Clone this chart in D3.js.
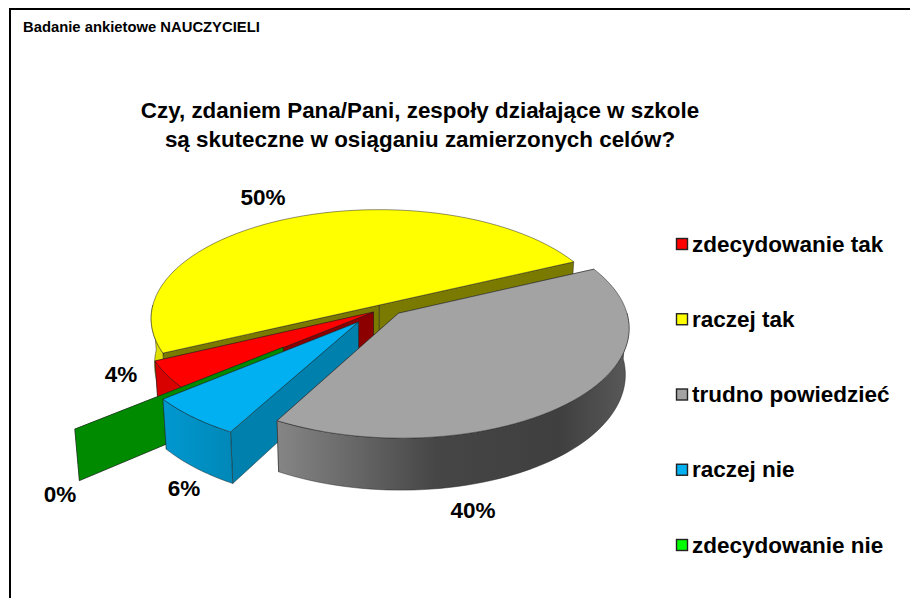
<!DOCTYPE html>
<html><head><meta charset="utf-8">
<script src="https://cdn.jsdelivr.net/npm/d3@7"></script>
<style>html,body{margin:0;padding:0;background:#fff}svg{display:block}text{font-family:"Liberation Sans",Arial,sans-serif;font-weight:bold;fill:#000}</style>
</head><body><div id="chart"></div>
<script>
const categories = ["zdecydowanie tak","raczej tak","trudno powiedzieć","raczej nie","zdecydowanie nie"];
const values = [4,50,40,6,0];
const labels = ["4%","50%","40%","6%","0%"];
const topColors = ["#ff0000","#ffff00","#a3a3a3","#00b0f0","#00ff00"];
const radialColors = ["#8c0000","#7a7a00","#6a6a6a","#0080ac","#008a00"];
const outerColors = ["#d90000","#e0e000","#555555","#0090c4","#008a00"];
const title = ["Czy, zdaniem Pana/Pani, zespoły działające w szkole","są skuteczne w osiąganiu zamierzonych celów?"];
const header = "Badanie ankietowe NAUCZYCIELI";
// layout: in-plane explosion offset per slice, label anchors
const explode = [[-.02,.075],[.005,.01],[.09,.085],[-.085,.165],[-.40,.385]];
const labelPos = [[121,382],[263,205],[473,518],[184,496],[60,502]];

const W=910,H=598, X0=378,Y0=304,Rx=226,Ry=107,K=.124,D=45,S=.015;
const deg=Math.PI/180;
const svg=d3.select("#chart").append("svg").attr("width",W).attr("height",H);
const defs=svg.append("defs");
const gray=defs.append("linearGradient").attr("id","gw").attr("gradientUnits","userSpaceOnUse").attr("x1",276).attr("x2",630).attr("y1",0).attr("y2",0);
[[0,"#868686"],[.2,"#6a6a6a"],[.45,"#464646"],[.8,"#3f3f3f"],[1,"#5a5a5a"]].forEach(s=>gray.append("stop").attr("offset",s[0]).attr("stop-color",s[1]));
const blue=defs.append("linearGradient").attr("id","bw").attr("gradientUnits","userSpaceOnUse").attr("x1",164).attr("x2",230).attr("y1",0).attr("y2",0);
[[0,"#0098d0"],[1,"#0088b8"]].forEach(s=>blue.append("stop").attr("offset",s[0]).attr("stop-color",s[1]));

svg.append("path").attr("d",`M10,${H} V9 H${W}`).attr("fill","none").attr("stroke","#000").attr("stroke-width",2);

const proj=(u,v,h)=>{const w=1/(1-K*v);return [X0+Rx*u*w*(1-S*h),Y0+Ry*v*w+h*D*w];};
const arcs=d3.pie().sort(null).value(d=>d).startAngle(230.5*deg).endAngle(590.5*deg)(values);
const line=d3.line();
const pt=(i,a,r,h)=>proj(explode[i][0]+r*Math.sin(a),explode[i][1]-r*Math.cos(a),h);
const sampleArc=(i,a0,a1,h)=>d3.range(0,61).map(t=>pt(i,a0+(a1-a0)*t/60,1,h));
const order=[1,0,4,3,2];
const g=svg.append("g").attr("stroke","#222").attr("stroke-opacity",.7).attr("stroke-width",.7).attr("stroke-linejoin","round");
order.forEach(i=>{
  const a=arcs[i], s=a.startAngle, e=a.endAngle;
  const sg=g.append("g");
  const radial=[s,e].map(ang=>[pt(i,ang,0,0),pt(i,ang,1,0),pt(i,ang,1,1),pt(i,ang,0,1)]);
  radial.sort((p,q)=>d3.mean(p,c=>c[1])-d3.mean(q,c=>c[1]));
  radial.forEach(p=>sg.append("path").attr("d",line(p)+"Z").attr("fill",radialColors[i]));
  // front-facing part of the rim
  const ranges=[[90,270],[450,630]].map(r=>[Math.max(s,r[0]*deg),Math.min(e,r[1]*deg)]).filter(r=>r[1]>r[0]);
  ranges.forEach(r=>{
    const poly=sampleArc(i,r[0],r[1],0).concat(sampleArc(i,r[1],r[0],1));
    sg.append("path").attr("d",line(poly)+"Z").attr("fill",i===2?"url(#gw)":i===3?"url(#bw)":outerColors[i]);
  });
  if(e>s){
    const topPoly=[pt(i,s,0,0)].concat(sampleArc(i,s,e,0));
    sg.append("path").attr("d",line(topPoly)+"Z").attr("fill",topColors[i]);
  }
});

svg.selectAll("text.head").data([header]).join("text").attr("class","head").attr("x",23).attr("y",32).attr("font-size",14.8).text(d=>d);
svg.selectAll("text.title").data(title).join("text").attr("class","title").attr("x",420).attr("y",(d,i)=>118+i*29).attr("text-anchor","middle").attr("font-size",22.4).text(d=>d);
svg.selectAll("text.pct").data(labels).join("text").attr("class","pct").attr("x",(d,i)=>labelPos[i][0]).attr("y",(d,i)=>labelPos[i][1]).attr("text-anchor","middle").attr("font-size",22.5).text(d=>d);
const legY=d3.scalePoint().domain(categories).range([244,545]);
const leg=svg.selectAll("g.leg").data(categories).join("g").attr("class","leg").attr("transform",d=>`translate(676,${legY(d)})`);
leg.append("rect").attr("x",.5).attr("y",-5.5).attr("width",11).attr("height",11).attr("fill",(d,i)=>topColors[i]).attr("stroke","#222").attr("stroke-width",1.4);
leg.append("text").attr("x",16).attr("y",7.5).attr("font-size",22.5).text(d=>d);
</script></body></html>
